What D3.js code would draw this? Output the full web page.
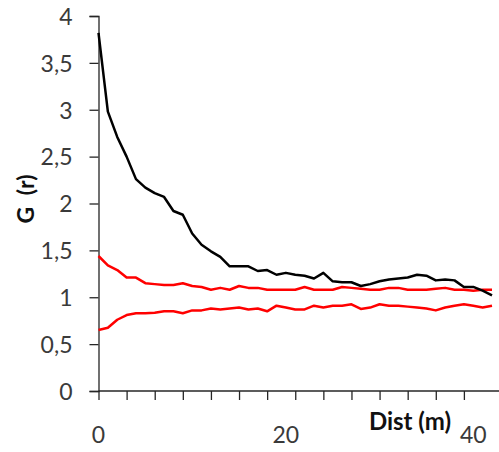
<!DOCTYPE html>
<html>
<head>
<meta charset="utf-8">
<script src="https://cdn.jsdelivr.net/npm/d3@7"></script>
<style>
  html, body { margin: 0; padding: 0; background: #fff; }
  svg { display: block; }
  text { font-family: Lato, "Open Sans", sans-serif; }
</style>
</head>
<body>
<svg id="chart" width="499" height="452"></svg>
<script>
// ---- data ----
const dist = d3.range(0, 43); // 0..42 m
const gObserved = [3.82, 2.98, 2.71, 2.50, 2.26, 2.17, 2.11, 2.07, 1.92, 1.88,
  1.68, 1.56, 1.49, 1.43, 1.33, 1.33, 1.33, 1.28, 1.29, 1.24,
  1.26, 1.24, 1.23, 1.20, 1.26, 1.17, 1.16, 1.16, 1.12, 1.14,
  1.17, 1.19, 1.20, 1.21, 1.24, 1.23, 1.18, 1.19, 1.18, 1.11,
  1.11, 1.07, 1.02];
const envUpper = [1.44, 1.34, 1.29, 1.21, 1.21, 1.15, 1.14, 1.13, 1.13, 1.15,
  1.12, 1.11, 1.08, 1.10, 1.08, 1.12, 1.10, 1.10, 1.08, 1.08,
  1.08, 1.08, 1.11, 1.08, 1.08, 1.08, 1.11, 1.10, 1.09, 1.08,
  1.08, 1.10, 1.10, 1.08, 1.08, 1.08, 1.09, 1.10, 1.08, 1.08,
  1.07, 1.08, 1.08];
const envLower = [0.65, 0.675, 0.76, 0.81, 0.83, 0.83, 0.835, 0.85, 0.85, 0.83,
  0.86, 0.86, 0.88, 0.87, 0.88, 0.89, 0.87, 0.88, 0.85, 0.91,
  0.89, 0.87, 0.87, 0.91, 0.89, 0.91, 0.91, 0.925, 0.875, 0.89,
  0.925, 0.91, 0.91, 0.90, 0.89, 0.88, 0.86, 0.89, 0.91, 0.925,
  0.91, 0.89, 0.91];
const xTickLabels = [0, 20, 40];
const xMinorTicks = d3.range(0, 40, 3);
const yTicks = [0, 0.5, 1, 1.5, 2, 2.5, 3, 3.5, 4];
const xTitle = "Dist (m)";
const yTitle = "G (r)";

// ---- layout ----
const svg = d3.select("#chart");
const x = d3.scaleLinear().domain([0, 42]).range([98.5, 492]);
const y = d3.scaleLinear().domain([0, 4]).range([391, 16]);
const fmt = v => String(v).replace(".", ",");
const axisColor = "#262626";
const labelColor = "#3a3a3a";

// y axis
const yAxis = svg.append("g").attr("transform", `translate(${x(0)},0)`)
  .call(d3.axisLeft(y).tickValues(yTicks).tickFormat(fmt).tickSize(9).tickPadding(17));
yAxis.select(".domain").attr("stroke", axisColor).attr("stroke-width", 1.3);
yAxis.selectAll(".tick line").attr("stroke", axisColor).attr("stroke-width", 1.3);
yAxis.selectAll(".tick text").attr("fill", labelColor).style("font-size", "23px")
  .attr("dy", "0.36em");

// x axis line + minor ticks
const xAxis = svg.append("g").attr("transform", `translate(0,${y(0)})`)
  .call(d3.axisBottom(x).tickValues(xMinorTicks).tickFormat("").tickSize(9).tickSizeOuter(0));
xAxis.select(".domain").attr("stroke", axisColor).attr("stroke-width", 1.3)
  .attr("d", `M${x(0)},0H499`);
xAxis.selectAll(".tick line").attr("stroke", axisColor).attr("stroke-width", 1.3);

// x labels
svg.append("g").selectAll("text").data(xTickLabels).join("text")
  .attr("x", d => x(d)).attr("y", 443)
  .attr("text-anchor", "middle").attr("fill", labelColor)
  .style("font-size", "23px").text(d => d);

// titles
svg.append("text").attr("x", 410).attr("y", 430).attr("text-anchor", "middle")
  .attr("fill", "#111").style("font-size", "24px").style("font-weight", "bold").text(xTitle);
svg.append("text").attr("transform", "translate(34,199) rotate(-90)")
  .attr("text-anchor", "middle").attr("fill", "#111")
  .style("font-size", "23px").style("font-weight", "bold").style("word-spacing", "6px")
  .text(yTitle);

// lines
const line = vals => d3.line().x((d, i) => x(dist[i])).y(d => y(d))(vals);
svg.append("path").attr("d", line(envUpper)).attr("fill", "none")
  .attr("stroke", "#ff0000").attr("stroke-width", 2.5).attr("stroke-linejoin", "round");
svg.append("path").attr("d", line(envLower)).attr("fill", "none")
  .attr("stroke", "#ff0000").attr("stroke-width", 2.5).attr("stroke-linejoin", "round");
svg.append("path").attr("d", line(gObserved)).attr("fill", "none")
  .attr("stroke", "#000").attr("stroke-width", 2.5).attr("stroke-linejoin", "round");
</script>
</body>
</html>
